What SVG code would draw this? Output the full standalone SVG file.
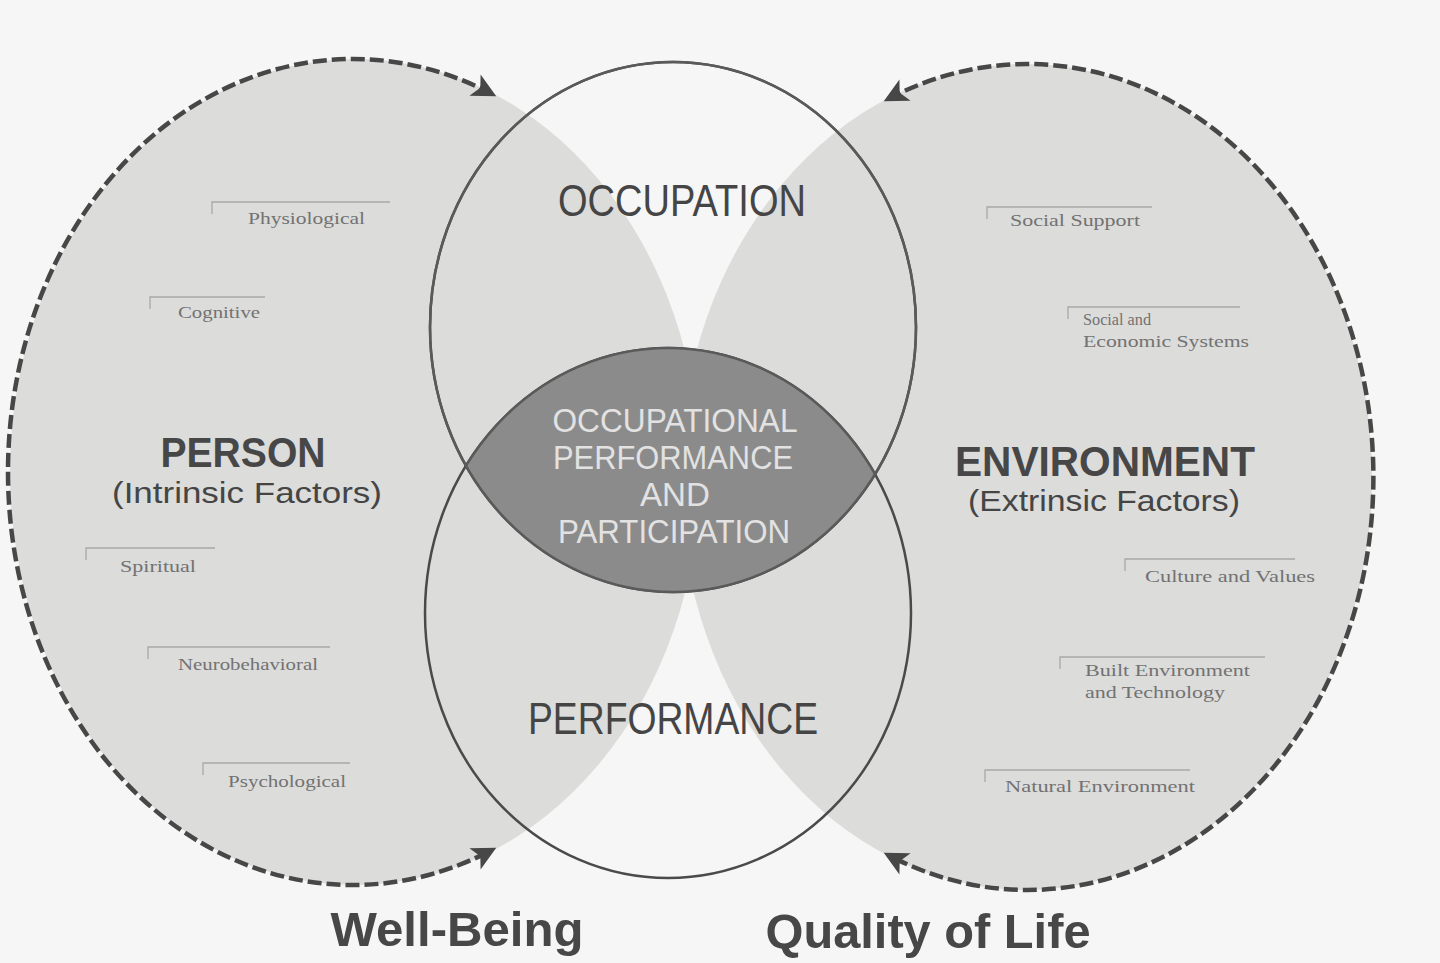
<svg xmlns="http://www.w3.org/2000/svg" width="1440" height="963" viewBox="0 0 1440 963">
  <style>
    .bg{fill:#f6f6f6}
    .shade{fill:#dcdcdb;stroke:none}
    .ring{fill:none;stroke:#4a4a4a;stroke-width:2.5}
    .dash{fill:none;stroke:#474747;stroke-width:4.5;stroke-dasharray:14 5}
    .head{font-family:"Liberation Sans",Arial,sans-serif;fill:#454545}
    .lens{font-family:"Liberation Sans",Arial,sans-serif;fill:#e2e2e2;font-size:34px}
    .bold{font-family:"Liberation Sans",Arial,sans-serif;font-weight:bold;fill:#474747}
    .sub{font-family:"Liberation Serif","Times New Roman",serif;fill:#727272;font-size:16px}
    .rule{fill:none;stroke:#a8a8a8;stroke-width:1.3}
  </style>
  <defs>
    <marker id="arrow" viewBox="0 0 10 10" refX="8" refY="5" markerWidth="28" markerHeight="24" markerUnits="userSpaceOnUse" orient="auto-start-reverse">
      <path d="M0,0 L10,5 L0,10 L2.5,5 z" fill="#474747"/>
    </marker>
    <clipPath id="occClip">
      <ellipse cx="673" cy="327" rx="243" ry="265"/>
    </clipPath>
  </defs>

  <rect class="bg" x="0" y="0" width="1440" height="963"/>

  <g id="person-area">
    <ellipse class="shade" cx="355" cy="472" rx="345" ry="413"/>
  </g>
  <g id="environment-area">
    <ellipse class="shade" cx="1026" cy="477" rx="346" ry="413"/>
  </g>

  <g id="occupation">
    <ellipse class="ring" cx="673" cy="327" rx="243" ry="265"/>
    <text class="head" x="682" y="216" font-size="44" text-anchor="middle" textLength="248" lengthAdjust="spacingAndGlyphs">OCCUPATION</text>
  </g>

  <g id="performance">
    <ellipse class="ring" cx="668" cy="613" rx="243" ry="265"/>
    <text class="head" x="673" y="734" font-size="44" text-anchor="middle" textLength="290" lengthAdjust="spacingAndGlyphs">PERFORMANCE</text>
  </g>

  <g id="occupational-performance">
    <ellipse cx="668" cy="613" rx="243" ry="265" fill="#8b8b8b" stroke="#5a5a5a" stroke-width="2.5" clip-path="url(#occClip)"/>
    <ellipse cx="673" cy="327" rx="243" ry="265" fill="none" stroke="#5a5a5a" stroke-width="2.5"/>
    <text class="lens" x="675" y="432" text-anchor="middle" textLength="245" lengthAdjust="spacingAndGlyphs">OCCUPATIONAL</text>
    <text class="lens" x="673" y="469" text-anchor="middle" textLength="240" lengthAdjust="spacingAndGlyphs">PERFORMANCE</text>
    <text class="lens" x="675" y="506" text-anchor="middle" textLength="70" lengthAdjust="spacingAndGlyphs">AND</text>
    <text class="lens" x="674" y="543" text-anchor="middle" textLength="232" lengthAdjust="spacingAndGlyphs">PARTICIPATION</text>
  </g>

  <g id="person">
    <text class="bold" x="243" y="467" font-size="42" text-anchor="middle" textLength="165" lengthAdjust="spacingAndGlyphs">PERSON</text>
    <text class="head" x="247" y="503" font-size="29" text-anchor="middle" textLength="270" lengthAdjust="spacingAndGlyphs">(Intrinsic Factors)</text>
  </g>
  <g id="environment">
    <text class="bold" x="1105" y="476" font-size="42" text-anchor="middle" textLength="300" lengthAdjust="spacingAndGlyphs">ENVIRONMENT</text>
    <text class="head" x="1104" y="511" font-size="29" text-anchor="middle" textLength="272" lengthAdjust="spacingAndGlyphs">(Extrinsic Factors)</text>
  </g>

  <g id="person-factors">
    <g id="physiological">
      <path class="rule" d="M212,214 V202 H390"/>
      <text class="sub" x="248" y="224" textLength="117" lengthAdjust="spacingAndGlyphs">Physiological</text>
    </g>
    <g id="cognitive">
      <path class="rule" d="M150,309 V297 H265"/>
      <text class="sub" x="178" y="318" textLength="82" lengthAdjust="spacingAndGlyphs">Cognitive</text>
    </g>
    <g id="spiritual">
      <path class="rule" d="M86,560 V548 H215"/>
      <text class="sub" x="120" y="572" textLength="76" lengthAdjust="spacingAndGlyphs">Spiritual</text>
    </g>
    <g id="neurobehavioral">
      <path class="rule" d="M148,659 V647 H330"/>
      <text class="sub" x="178" y="670" textLength="140" lengthAdjust="spacingAndGlyphs">Neurobehavioral</text>
    </g>
    <g id="psychological">
      <path class="rule" d="M203,775 V763 H350"/>
      <text class="sub" x="228" y="787" textLength="118" lengthAdjust="spacingAndGlyphs">Psychological</text>
    </g>
  </g>

  <g id="environment-factors">
    <g id="social-support">
      <path class="rule" d="M987,219 V207 H1152"/>
      <text class="sub" x="1010" y="226" textLength="130" lengthAdjust="spacingAndGlyphs">Social Support</text>
    </g>
    <g id="social-economic">
      <path class="rule" d="M1068,319 V307 H1240"/>
      <text class="sub" x="1083" y="325" textLength="68" lengthAdjust="spacingAndGlyphs">Social and</text>
      <text class="sub" x="1083" y="347" textLength="166" lengthAdjust="spacingAndGlyphs">Economic Systems</text>
    </g>
    <g id="culture-values">
      <path class="rule" d="M1125,571 V559 H1295"/>
      <text class="sub" x="1145" y="582" textLength="170" lengthAdjust="spacingAndGlyphs">Culture and Values</text>
    </g>
    <g id="built-environment">
      <path class="rule" d="M1060,669 V657 H1265"/>
      <text class="sub" x="1085" y="676" textLength="165" lengthAdjust="spacingAndGlyphs">Built Environment</text>
      <text class="sub" x="1085" y="698" textLength="140" lengthAdjust="spacingAndGlyphs">and Technology</text>
    </g>
    <g id="natural-environment">
      <path class="rule" d="M985,782 V770 H1190"/>
      <text class="sub" x="1005" y="792" textLength="190" lengthAdjust="spacingAndGlyphs">Natural Environment</text>
    </g>
  </g>

  <g id="connectors">
    <path class="dash" d="M492,94 A345,413 0 1 0 492,850" marker-start="url(#arrow)" marker-end="url(#arrow)"/>
    <path class="dash" d="M888,99 A346,413 0 1 1 888,855" marker-start="url(#arrow)" marker-end="url(#arrow)"/>
  </g>

  <g id="well-being">
    <text class="bold" x="457" y="946" font-size="49" text-anchor="middle" textLength="253" lengthAdjust="spacingAndGlyphs">Well-Being</text>
  </g>
  <g id="quality-of-life">
    <text class="bold" x="928" y="948" font-size="49" text-anchor="middle" textLength="325" lengthAdjust="spacingAndGlyphs">Quality of Life</text>
  </g>
</svg>
